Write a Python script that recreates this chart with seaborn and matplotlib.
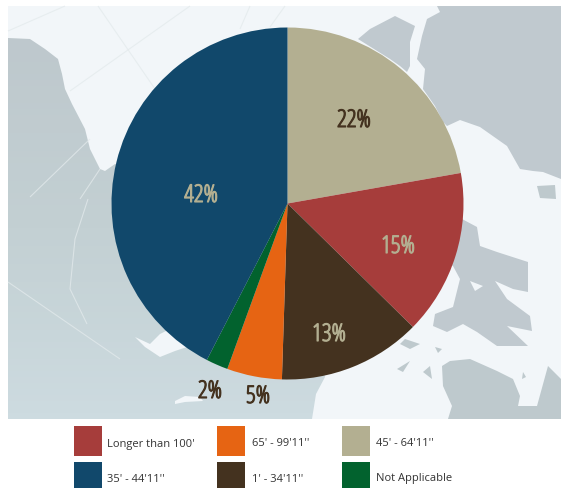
import numpy as np
import matplotlib
matplotlib.use("Agg")
import matplotlib.pyplot as plt
import matplotlib.patheffects as pe
from matplotlib.patches import Polygon, Rectangle
from matplotlib.colors import LinearSegmentedColormap
import seaborn as sns

sns.set_theme(style="white")

# data
categories = ["45' - 64'11''", "Longer than 100'", "1' - 34'11''", "65' - 99'11''", "Not Applicable", "35' - 44'11''"]
values = [22, 15, 13, 5, 2, 42]
colors = ["#b3af91", "#a63d3b", "#44321f", "#e66413", "#02622e", "#11486b"]
pct_labels = ["22%", "15%", "13%", "5%", "2%", "42%"]
label_colors = ["#44321f", "#b3af91", "#b3af91", "#44321f", "#44321f", "#b3af91"]
label_pos = [(354, 122), (398, 248), (329, 336), (258, 398), (210, 393), (201, 197)]

legend_grid = [[1, 3, 0], [5, 2, 4]]
legend_x = [74, 217, 342]
legend_y = [(427, 30), (463, 26)]
legend_text_x = [107, 252, 376]
legend_text_y = [444, 479]

# background map shapes (decoration, in pixels)
left_land = [(8, 39), (30, 40), (45, 50), (58, 60), (62, 75), (65, 90), (72, 105), (85, 130), (90, 150),
             (100, 170), (105, 172), (115, 165), (287, 204), (325, 378), (316, 395), (312, 420), (8, 420)]
ne_land = [(437, 7), (440, 13), (427, 20), (422, 37), (417, 60), (425, 70), (423, 90), (435, 107), (443, 123),
           (447, 127), (460, 121), (480, 128), (507, 147), (520, 170), (533, 172), (543, 173), (561, 180), (561, 7)]
green_land = [(358, 40), (370, 30), (395, 17), (415, 27), (410, 43), (410, 67), (407, 73), (400, 67), (390, 60)]
mid_land = [(462, 220), (477, 228), (480, 247), (497, 253), (528, 263), (528, 293), (513, 290), (495, 282),
            (507, 300), (530, 317), (532, 332), (507, 327), (528, 347), (497, 347), (477, 333), (463, 325),
            (447, 333), (433, 327), (435, 315), (453, 308), (460, 280), (453, 267), (440, 260)]
low_land = [(442, 367), (450, 362), (470, 360), (497, 372), (513, 380), (520, 397), (518, 407), (537, 407),
            (548, 367), (561, 380), (561, 420), (448, 420), (452, 407), (443, 387)]
islands = [[(397, 370), (410, 362), (403, 373)], [(430, 367), (432, 380), (423, 373)],
           [(435, 348), (442, 350), (438, 354)], [(405, 340), (420, 345), (410, 350), (400, 345)],
           [(523, 373), (526, 378), (522, 380)], [(537, 187), (555, 186), (556, 200), (540, 199)]]
ocean_bits = [[(470, 282), (483, 287), (475, 292)],
              [(135, 338), (145, 348), (160, 358), (175, 352), (187, 348), (170, 330), (160, 335), (150, 345)],
              [(175, 402), (185, 397), (200, 398), (203, 402), (185, 403), (175, 405)]]
grid_lines = [[(8, 32), (65, 7)], [(98, 7), (155, 90)], [(190, 7), (70, 92)], [(90, 140), (30, 198)],
              [(8, 283), (120, 360)], [(100, 170), (80, 200)], [(88, 200), (75, 240), (70, 290), (87, 325)],
              [(285, 7), (270, 28)], [(250, 7), (240, 30)]]

OCEAN = "#f2f6f9"
fig = plt.figure(figsize=(5.61, 4.89), dpi=100, facecolor="white")
bg = fig.add_axes([0, 0, 1, 1])
bg.set_xlim(0, 561)
bg.set_ylim(489, 0)
bg.axis("off")
bg.add_patch(Rectangle((8, 7), 553, 413, fc=OCEAN, ec="none", zorder=0))

# land with a soft vertical tone shift
cmap = LinearSegmentedColormap.from_list("land", ["#bec8cd", "#c3d0d3", "#cddbe0"])
im = bg.imshow(np.linspace(0, 1, 64)[:, None], extent=(8, 330, 420, 39), cmap=cmap, aspect="auto", zorder=1)
im.set_clip_path(Polygon(left_land, transform=bg.transData))
bg.set_xlim(0, 561)
bg.set_ylim(489, 0)

for shp in [ne_land, green_land, mid_land]:
    bg.add_patch(Polygon(shp, fc="#c0c9cf", ec="none", zorder=1))
bg.add_patch(Polygon(low_land, fc="#bec9cd", ec="none", zorder=1))
for shp in islands:
    bg.add_patch(Polygon(shp, fc="#bec9cd", ec="none", zorder=1))
for shp in ocean_bits:
    bg.add_patch(Polygon(shp, fc=OCEAN, ec="none", zorder=2))
for ln in grid_lines:
    xs, ys = zip(*ln)
    bg.plot(xs, ys, color="#e3eaec", lw=0.8, alpha=0.75, zorder=2, solid_capstyle="butt")

# legend
for r, row in enumerate(legend_grid):
    y, h = legend_y[r]
    for c, idx in enumerate(row):
        bg.add_patch(Rectangle((legend_x[c], y), 28, h, fc=colors[idx], ec="none"))
        bg.text(legend_text_x[c] + 0.5, legend_text_y[r], categories[idx], fontsize=8.0,
                family=["Open Sans", "DejaVu Sans"], color="#333333", va="center", ha="left")

# pie
R = 176
cx, cy = 287.5, 204.5
ax = fig.add_axes([(cx - R) / 561, (489 - cy - R) / 489, 2 * R / 561, 2 * R / 489])
ax.patch.set_alpha(0)
ax.pie(values, colors=colors, startangle=90, counterclock=False, radius=1,
       wedgeprops={"linewidth": 0, "antialiased": True})
ax.set_xlim(-1, 1)
ax.set_ylim(-1, 1)

for t, col, (x, y) in zip(pct_labels, label_colors, label_pos):
    ax.text(x, y, t, transform=bg.transData, color=col, fontsize=17.5, stretch="condensed",
            family=["Open Sans", "DejaVu Sans"], ha="center", va="center", clip_on=False,
            path_effects=[pe.withStroke(linewidth=0.8, foreground=col)])

fig.savefig("out.png", dpi=100)
